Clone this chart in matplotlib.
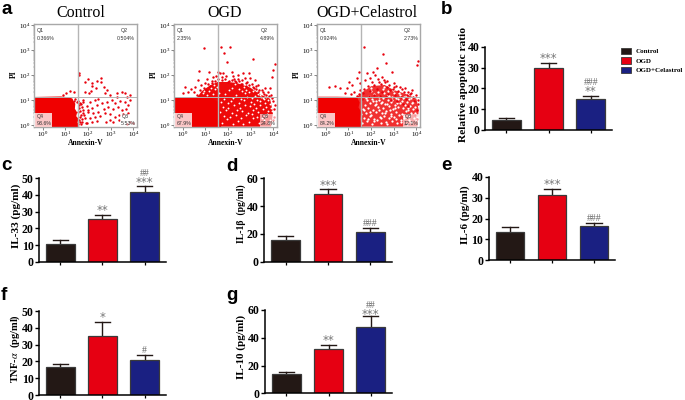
#!/usr/bin/env python
import numpy as np
import matplotlib
matplotlib.use('Agg')
import matplotlib.pyplot as plt
from matplotlib.patches import Patch, Rectangle
from matplotlib.ticker import NullFormatter

plt.rcParams['font.family'] = ['Liberation Serif', 'DejaVu Serif']
plt.rcParams['mathtext.fontset'] = 'stix'

W, H = 685, 400

groups = ['Control', 'OGD', 'OGD+Celastrol']
colors = ['#231815', '#e60012', '#1a2082']

# bar values: means and top of the error bars
b_vals = [5, 30, 14.7]
b_tops = [6, 32.2, 16.5]
c_vals = [10.8, 25.8, 41.8]
c_tops = [13.2, 28.2, 45.2]
d_vals = [15.5, 49, 21.5]
d_tops = [18.5, 52, 24.3]
e_vals = [13.7, 31.4, 16.5]
e_tops = [16.1, 34.2, 17.9]
f_vals = [16.9, 35.1, 21]
f_tops = [18.7, 43.5, 24]
g_vals = [13.7, 31.9, 47.7]
g_tops = [15.6, 35, 55.9]

# flow cytometry: outlying events in decades (log10 Annexin-V, log10 PI)
ctrl_x = [1.62,1.60,2.01,2.56,2.38,2.18,2.56,2.16,2.34,2.71,1.87,2.06,2.13,1.87,1.21,1.03,1.38,0.91,3.26,3.49,
          3.63,3.85,3.71,3.29,2.85,2.75,2.97,2.31,2.46,2.09,1.79,1.65,1.72,1.94,2.16,2.38,2.60,2.82,3.04,3.19,
          3.41,3.63,3.78,3.85,3.34,3.49,3.68,3.12,2.90,2.71,2.46,2.24,2.01,1.79,1.65,1.87,2.09,2.31,2.53,2.75,
          2.97,3.19,3.38,3.56,3.78,2.97,2.79,2.16,1.94,1.72,2.38,3.12,3.38,3.85,4.00,3.71,1.65,1.76,1.55,1.60,
          1.70,1.62,1.58,1.68,1.50,1.44,1.36,1.75,1.83,1.90,2.02,1.71,1.80,1.62,1.57,1.66]
ctrl_y = [2.09,2.00,1.83,1.87,1.76,1.67,1.71,1.57,1.49,1.52,1.72,1.29,1.36,1.33,1.36,1.29,1.33,1.20,1.29,1.33,
          1.29,1.20,1.11,1.11,1.40,1.29,1.20,1.00,1.03,0.93,1.00,0.87,0.71,0.76,0.67,0.80,0.87,0.93,1.00,0.87,
          0.97,0.93,0.80,1.00,0.71,0.60,0.63,0.63,0.71,0.63,0.53,0.47,0.53,0.47,0.33,0.27,0.27,0.31,0.36,0.47,
          0.44,0.33,0.40,0.44,0.49,0.20,0.13,0.13,0.09,0.13,0.16,0.13,0.20,0.13,0.07,0.04,0.57,0.60,0.95,0.80,
          0.40,0.20,0.05,0.02,0.92,1.02,0.96,0.22,0.38,0.08,0.58,0.82,0.90,0.66,0.50,0.12]
ogd_x = [0.96,1.69,2.10,1.82,1.96,3.09,4.09,3.97,3.93,0.74,1.16,1.57,1.65,1.79,2.16,2.43,2.68,2.94,2.97,2.75,
         2.46,1.35,1.06,0.69,0.10,0.35,0.54,0.50,0.25,0.03,0.79,0.99,3.19,3.34,3.15,3.85,3.63,3.49,3.93,4.07,
         4.03,3.97,1.30,1.45,1.90,2.25,2.60,2.85,3.05,3.30,3.60,3.75,1.20,1.75,2.05,2.35,2.20,2.55,2.80,3.25,
         0.62,0.78,0.92,1.02,1.12,1.28,1.42,1.58,1.72,1.88,2.02,2.18,2.32,2.48,2.62,2.78,2.92,3.08,3.22,3.38,
         3.52,3.68,3.82,3.98,4.02,3.90]
ogd_y = [3.07,3.13,3.13,2.89,2.52,2.63,2.43,2.20,1.93,2.16,2.12,2.13,2.07,2.09,2.13,2.00,2.07,2.07,1.87,1.87,
         1.83,1.91,1.83,1.80,1.51,1.43,1.53,1.33,1.33,1.27,1.60,1.67,1.80,1.60,1.47,1.47,1.47,1.40,1.07,0.80,
         0.33,0.20,1.75,1.95,1.95,1.85,1.80,1.70,1.65,1.30,1.25,1.30,1.55,1.90,1.75,1.70,1.95,1.65,1.55,1.45,
         1.20,1.38,1.46,1.40,1.62,1.66,1.74,1.82,1.78,1.83,1.72,1.78,1.74,1.76,1.63,1.68,1.58,1.52,1.56,1.38,
         1.32,1.18,1.16,0.95,0.62,1.18]
cela_x = [1.68,2.53,2.66,4.07,4.03,1.46,2.26,2.93,1.82,2.09,2.19,2.49,2.56,1.38,1.01,0.13,0.40,0.65,0.94,1.16,
          1.53,1.75,1.97,2.34,2.78,3.00,3.29,3.51,3.81,3.96,4.07,1.85,2.15,2.45,2.70,2.95,3.20,3.45,3.70,2.05,
          2.30,2.60,2.85,3.10,3.35,3.60,3.85,1.70,1.95,2.25,2.50,2.75,3.05,3.30,3.55,3.90,4.02,1.25,1.45,0.85,
          2.40,2.65,2.90,2.15,1.90,3.15,3.40,1.60,3.65,3.95,1.38,1.52,1.64,2.72,3.02,3.62,3.78,4.08,4.04,1.10]
cela_y = [3.13,2.84,2.47,2.57,2.40,2.13,2.27,2.11,2.07,2.13,2.00,1.93,1.80,1.87,1.73,1.53,1.56,1.47,1.47,1.60,
          1.67,1.80,1.87,1.73,1.60,1.67,1.53,1.47,1.40,1.20,1.00,1.55,1.60,1.65,1.50,1.45,1.35,1.30,1.25,1.72,
          1.85,1.72,1.38,1.55,1.42,1.20,1.12,1.45,1.35,1.42,1.30,1.25,1.20,1.12,1.05,0.95,0.60,1.30,1.25,1.28,
          1.15,1.10,1.00,1.20,1.15,0.95,0.85,1.05,0.75,0.40,1.16,1.38,1.28,1.74,1.52,1.31,1.26,0.82,0.22,1.22]

# white holes seen inside the merged clouds (decades)
ogd_gap_x = [1.72,1.95,2.21,2.44,2.68,2.93,3.12,3.37,3.58,3.81,1.84,2.07,2.33,2.57,2.81,3.04,3.26,3.49,3.72,1.66,
             1.91,2.16,2.39,2.63,2.88,3.09,3.31,3.55,3.78,1.78,2.02,2.27,2.52,2.74,2.97,3.21,3.43,3.67,3.89,1.69,
             1.98,2.12,2.47,2.69,3.01,3.16,3.39,3.62,3.84,1.82,2.23,2.58,2.84,3.07,3.28,3.52,3.75,1.88,2.36,2.76,
             3.19,3.46,3.69,2.04,2.61,2.91,3.34,3.59,1.61,2.18,2.49,2.79,3.11,3.41,3.86,1.32,1.06,0.88,1.18,1.44,
             1.52,1.24,0.96,1.36,2.29,2.71,3.23,3.64,3.93,3.80]
ogd_gap_y = [0.08,0.22,0.05,0.17,0.03,0.12,0.26,0.06,0.19,0.09,0.36,0.31,0.41,0.29,0.38,0.44,0.33,0.27,0.42,0.52,
             0.58,0.49,0.61,0.54,0.47,0.59,0.53,0.62,0.56,0.72,0.67,0.78,0.69,0.81,0.74,0.68,0.79,0.73,0.66,0.91,
             0.86,0.95,0.89,0.99,0.93,0.84,0.97,0.88,0.83,1.04,1.09,1.02,1.12,1.07,1.01,1.06,0.98,1.24,1.19,1.27,
             1.16,1.13,1.11,1.38,1.34,1.31,1.22,1.02,1.26,1.47,1.44,1.41,1.36,1.19,0.21,1.24,1.18,1.29,1.36,1.42,
             1.52,1.49,1.37,1.58,1.62,1.52,1.44,0.35,0.54,0.12]
cela_gap_x = [1.62,1.83,2.04,2.27,2.46,2.71,2.92,3.14,3.33,3.57,3.78,3.96,1.71,1.94,2.13,2.38,2.59,2.81,3.03,3.24,
              3.46,3.67,3.88,1.58,1.79,2.02,2.21,2.49,2.68,2.89,3.11,3.36,3.52,3.74,3.97,1.66,1.88,2.09,2.31,2.54,
              2.77,2.98,3.19,3.41,3.63,3.85,1.74,1.96,2.18,2.42,2.63,2.86,3.07,3.29,3.49,3.71,3.92,1.81,2.06,2.24,
              2.51,2.73,2.94,3.17,3.38,3.59,3.82,1.91,2.11,2.36,2.57,2.79,3.01,3.26,3.44,3.69,2.01,2.29,2.52,2.74,
              2.96,3.21,3.54,3.77,1.86,2.15,2.44,2.66,2.88,3.12,3.31,1.69,1.97,2.33,2.61,2.83,3.06,3.47,3.66,2.22,
              2.47,2.69,2.91,3.16,1.76,2.08,2.37,2.76,3.09,3.39,3.94,4.02,3.86,3.62,1.99,2.56]
cela_gap_y = [0.06,0.14,0.03,0.19,0.09,0.02,0.17,0.07,0.21,0.04,0.12,0.18,0.27,0.34,0.24,0.31,0.37,0.26,0.33,0.39,
              0.28,0.35,0.29,0.43,0.49,0.41,0.53,0.46,0.56,0.44,0.51,0.42,0.57,0.48,0.39,0.63,0.69,0.61,0.72,0.66,
              0.74,0.62,0.71,0.67,0.59,0.64,0.81,0.86,0.79,0.89,0.83,0.92,0.78,0.87,0.81,0.76,0.73,0.98,1.04,0.96,
              1.07,0.99,1.11,1.02,0.94,0.91,0.86,1.16,1.22,1.13,1.26,1.17,1.29,1.19,1.12,1.03,1.37,1.31,1.43,1.34,
              1.41,1.28,1.14,1.09,0.22,0.16,0.28,0.11,0.36,0.24,0.13,0.58,0.52,0.59,0.47,0.61,0.68,0.37,0.21,0.82,
              0.93,0.85,0.99,0.88,1.09,0.94,1.01,1.21,1.09,1.08,0.47,0.31,0.92,0.66,1.48,1.52]

# outlines of the regions where events merge (decades)
ctrl_solid_x = [-0.4,-0.4,0.2,0.8,1.0,1.2,1.32,1.36,1.44,1.42,1.52,1.48,1.58,1.54,1.62]
ctrl_solid_y = [-0.1,1.12,1.13,1.14,1.12,1.10,1.05,0.95,0.85,0.65,0.50,0.35,0.25,0.10,-0.1]
ogd_solid_x = [-0.4,-0.4,0.5,1.2,1.6,1.65,1.7]
ogd_solid_y = [-0.1,1.10,1.11,1.12,0.9,0.4,-0.1]
ogd_cloud_x = [0.6,0.84,1.2,1.54,2.0,2.38,2.97,3.41,3.85,3.98,3.90,0.6]
ogd_cloud_y = [1.05,1.35,1.58,1.72,1.72,1.68,1.50,1.22,1.05,0.5,-0.07,-0.07]
cela_solid_x = [-0.4,-0.4,0.5,1.1,1.4,1.5,1.45,1.58,1.52,1.62]
cela_solid_y = [-0.1,1.13,1.13,1.12,1.08,0.9,0.7,0.5,0.25,-0.1]
cela_cloud_x = [1.3,1.6,2.0,2.6,3.0,3.5,4.0,4.1,4.05,1.4]
cela_cloud_y = [1.05,1.30,1.55,1.60,1.40,1.25,1.05,0.6,-0.07,-0.07]

# gate percentages
ctrl_q = ['0.366%', '0.504%', '93.6%', '5.53%']
ogd_q = ['2.35%', '4.89%', '67.9%', '24.8%']
cela_q = ['0.924%', '2.73%', '84.2%', '12.1%']


def axes_px(fig, l, t, r, b):
    return fig.add_axes([l/W, 1-b/H, (r-l)/W, (b-t)/H])


def flow_panel(fig, box, title, title_x, qs, px, py, solid, cloud=None, gaps=None, cloud_color='#ee0a0a', gap_size=1.8):
    l, t, r, b = box
    ax = axes_px(fig, *box)
    ax.set_xscale('log')
    ax.set_yscale('log')
    ax.set_xlim(10**-0.38, 10**4.17)
    ax.set_ylim(10**-0.07, 10**4.04)
    if cloud is not None:
        ax.fill(10**np.array(cloud[0]), 10**np.array(cloud[1]), color=cloud_color, lw=0)
        ax.scatter(10**np.array(gaps[0]), 10**np.array(gaps[1]), s=gap_size, color='white', lw=0)
    ax.fill(10**np.array(solid[0]), 10**np.array(solid[1]), color='#f00000', lw=0)
    ax.scatter(10**np.array(px), 10**np.array(py), s=3.0, color='#e8000c', lw=0)
    ax.axvline(10**1.54, color='#b5b5b5', lw=1.0)
    ax.axhline(10**1.13, color='#b5b5b5', lw=0.7)
    for s in ax.spines.values():
        s.set_color('#a8a8a8')
        s.set_linewidth(1.0)
    ax.set_xticks([1, 10, 100, 1000, 10000])
    ax.set_yticks([1, 10, 100, 1000, 10000])
    ax.minorticks_on()
    ax.tick_params(which='major', length=2, width=0.5, color='#555555', labelsize=5, pad=0.5)
    ax.tick_params(which='minor', length=1, width=0.3, color='#777777')
    ax.xaxis.set_minor_formatter(NullFormatter())
    ax.yaxis.set_minor_formatter(NullFormatter())
    # pale boxes behind Q4 and Q3 labels
    ax.add_patch(Rectangle((0, 0), 0.175, 0.13, transform=ax.transAxes, color='white', alpha=0.78, lw=0, zorder=4))
    ax.add_patch(Rectangle((0.83, 0), 0.16, 0.12, transform=ax.transAxes, color='white', alpha=0.6, lw=0, zorder=4))
    qfont = dict(family=['Liberation Sans', 'DejaVu Sans'], fontsize=3.8, color='#333333', transform=ax.transAxes, zorder=5)
    ax.text(0.025, 0.965, 'Q1', va='top', **qfont)
    ax.text(0.025, 0.885, qs[0], va='top', **qfont)
    ax.text(0.84, 0.965, 'Q2', va='top', **qfont)
    ax.text(0.98, 0.885, qs[1], va='top', ha='right', **qfont)
    ax.text(0.025, 0.095, 'Q4', va='center', **qfont)
    ax.text(0.025, 0.035, qs[2], va='center', **qfont)
    ax.text(0.85, 0.095, 'Q3', va='center', **qfont)
    ax.text(0.985, 0.035, qs[3], va='center', ha='right', **qfont)
    fig.text(title_x/W, 1-13/H, title, ha='center', va='center', fontsize=11.5)
    fig.text((l+r)/2/W, 1-143/H, 'Annexin-V', ha='center', va='center', fontsize=5.5, fontweight='bold')
    fig.text((l-20.5)/W, 1-74/H, 'PI', ha='center', va='center', rotation=90, fontsize=5.5, fontweight='bold')
    return ax


def bar_panel(fig, box, ymax, yticks, vals, tops, ylabel, label_xy, label_size, notes):
    ax = axes_px(fig, *box)
    xs = np.arange(3)
    ax.bar(xs, vals, width=0.68, color=colors, edgecolor='#3a3a3a', lw=0.9, zorder=2)
    for x, v, tp in zip(xs, vals, tops):
        ax.plot([x, x], [v, tp], color='#231815', lw=1.0, zorder=1)
        ax.plot([x-0.18, x+0.18], [tp, tp], color='#231815', lw=1.0, zorder=1)
    ax.set_xlim(-0.5, 2.5)
    ax.set_ylim(0, ymax)
    ax.set_xticks(xs)
    ax.set_yticks(yticks)
    ax.spines['top'].set_visible(False)
    ax.spines['right'].set_visible(False)
    ax.spines['left'].set_linewidth(1.1)
    ax.spines['bottom'].set_linewidth(1.1)
    ax.tick_params(axis='y', length=3, width=1.0, pad=1, labelsize=8.5)
    ax.tick_params(axis='x', length=2.5, width=0.9, labelbottom=False)
    for lab in ax.get_yticklabels():
        lab.set_fontweight('bold')
    fig.text(label_xy[0]/W, 1-label_xy[1]/H, ylabel, rotation=90, ha='center', va='center',
             fontsize=label_size, fontweight='bold')
    # significance marks, offsets in points above the error bar
    for x, mark, off in notes:
        if mark[0] == '*':
            ax.annotate(mark, (x, tops[x]), xytext=(0, off), textcoords='offset points', ha='center', va='baseline',
                        fontsize=8.5, color='#777777', family='DejaVu Sans', annotation_clip=False)
        else:
            ax.annotate(mark, (x, tops[x]), xytext=(0, off), textcoords='offset points', ha='center', va='baseline',
                        fontsize=7, color='#666666', annotation_clip=False)
    return ax


fig = plt.figure(figsize=(W/100, H/100), dpi=100)

flow_panel(fig, (34, 24, 137.3, 126.7), groups[0], 81, ctrl_q, ctrl_x, ctrl_y,
           (ctrl_solid_x, ctrl_solid_y))
flow_panel(fig, (174, 24, 277.3, 126.7), groups[1], 225, ogd_q, ogd_x, ogd_y,
           (ogd_solid_x, ogd_solid_y), (ogd_cloud_x, ogd_cloud_y), (ogd_gap_x, ogd_gap_y))
flow_panel(fig, (317, 24, 420.3, 126.7), groups[2], 367, cela_q, cela_x, cela_y,
           (cela_solid_x, cela_solid_y), (cela_cloud_x, cela_cloud_y), (cela_gap_x, cela_gap_y), '#f03030', 2.6)

star1, hash1, star2, hash2 = 0.5, 1.5, 0.5, 7.5
bar_panel(fig, (485, 46.7, 612, 130), 40, [0, 10, 20, 30, 40], b_vals, b_tops,
          'Relative apoptotic ratio', (463, 85), 8.2, [(1, '***', star1), (2, '**', star2), (2, '###', hash2)])
bar_panel(fig, (39.3, 178.3, 165.7, 261.7), 50, [0, 10, 20, 30, 40, 50], c_vals, c_tops,
          'IL-33 (pg/ml)', (16, 216), 8, [(1, '**', star1), (2, '***', star2), (2, '##', hash2)])
bar_panel(fig, (264.3, 178.3, 391.7, 261.7), 60, [0, 20, 40, 60], d_vals, d_tops,
          'IL-1β  (pg/ml)', (241, 214), 7, [(1, '***', star1), (2, '###', hash1)])
bar_panel(fig, (489, 176.7, 615, 260.3), 40, [0, 10, 20, 30, 40], e_vals, e_tops,
          'IL-6 (pg/ml)', (465, 215), 8, [(1, '***', star1), (2, '###', hash1)])
bar_panel(fig, (39.3, 311, 165.7, 395), 50, [0, 10, 20, 30, 40, 50], f_vals, f_tops,
          r'TNF-$\alpha$  (pg/ml)', (15, 349), 7.5, [(1, '*', star1), (2, '#', hash1)])
bar_panel(fig, (265.3, 310, 391.7, 393.3), 60, [0, 20, 40, 60], g_vals, g_tops,
          'IL-10 (pg/ml)', (241, 347), 8, [(1, '**', star1), (2, '***', -1.5), (2, '##', 5.5)])

handles = [Patch(facecolor=c, edgecolor='#3a3a3a', lw=0.6) for c in colors]
fig.legend(handles, groups, loc='upper left', bbox_to_anchor=(620.5/W, 1-48/H), frameon=False,
           prop={'weight': 'bold', 'size': 5}, handlelength=1.45, handleheight=1.0,
           labelspacing=0.42, handletextpad=0.7, borderpad=0, borderaxespad=0)

panel_font = dict(family=['Liberation Sans', 'DejaVu Sans'], fontsize=13.5, fontweight='bold', ha='left', va='baseline')
for letter, x, y in [('a', 1, 14), ('b', 441, 14), ('c', 1, 170.5), ('d', 226.5, 171),
                     ('e', 441, 170.5), ('f', 1, 300), ('g', 226.5, 300)]:
    fig.text(x/W, 1-y/H, letter, **panel_font)

fig.savefig('out.png', dpi=100)
